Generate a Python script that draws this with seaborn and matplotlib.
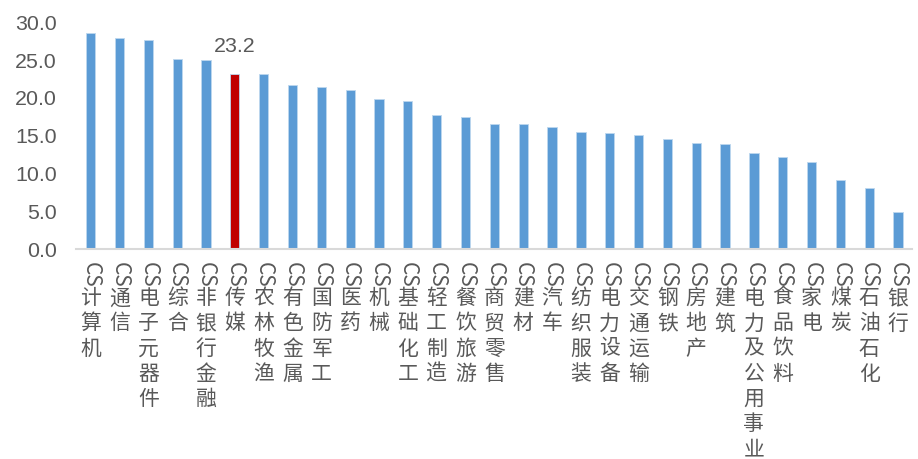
import matplotlib
matplotlib.use("Agg")
import matplotlib.pyplot as plt
import matplotlib.transforms as mtransforms
import seaborn as sns
import pandas as pd

categories = ["CS计算机", "CS通信", "CS电子元器件", "CS综合", "CS非银行金融", "CS传媒",
              "CS农林牧渔", "CS有色金属", "CS国防军工", "CS医药", "CS机械", "CS基础化工",
              "CS轻工制造", "CS餐饮旅游", "CS商贸零售", "CS建材", "CS汽车", "CS纺织服装",
              "CS电力设备", "CS交通运输", "CS钢铁", "CS房地产", "CS建筑", "CS电力及公用事业",
              "CS食品饮料", "CS家电", "CS煤炭", "CS石油石化", "CS银行"]
values = [28.6, 27.9, 27.7, 25.2, 25.0, 23.2, 23.2, 21.7, 21.4, 21.1, 19.9, 19.6,
          17.7, 17.5, 16.5, 16.5, 16.1, 15.5, 15.3, 15.1, 14.6, 14.1, 13.9, 12.7,
          12.2, 11.5, 9.1, 8.1, 4.9]
highlight = "CS传媒"
yticks = [0, 5, 10, 15, 20, 25, 30]

BLUE = "#5B9BD5"
RED = "#C00000"
GREY = "#595959"

sns.set_theme(style="white")
plt.rcParams["font.family"] = ["Liberation Sans", "Noto Sans CJK SC", "DejaVu Sans"]

df = pd.DataFrame({"cat": categories, "val": values})
palette = {c: (RED if c == highlight else BLUE) for c in categories}

fig = plt.figure(figsize=(9.18, 4.59), dpi=100)
ax = fig.add_axes([0.0831, 0.4575, 0.9109, 0.4935])
sns.barplot(data=df, x="cat", y="val", hue="cat", palette=palette, legend=False,
            width=0.32, ax=ax, edgecolor="#BDD7EE", linewidth=0.6, saturation=1)

ax.set_ylim(0, 30)
ax.set_yticks(yticks)
ax.set_yticklabels([f"{v:.1f}" for v in yticks], fontsize=15.4, color=GREY,
                   family=["Liberation Sans", "DejaVu Sans"])
ax.set_xlim(-0.5, len(categories) - 0.5)
ax.set_xlabel("")
ax.set_ylabel("")
for s in ["top", "right", "left"]:
    ax.spines[s].set_visible(False)
ax.spines["bottom"].set_color("#D9D9D9")
ax.spines["bottom"].set_linewidth(1.5)
ax.tick_params(axis="y", length=0, pad=14)
ax.tick_params(axis="x", length=0, pad=27.5)

# x labels: "CS" rotated, Chinese characters stacked upright
ax.set_xticks(range(len(categories)))
ax.set_xticklabels(["\n".join(list(c[2:])) for c in categories], fontsize=15,
                   color=GREY, va="top", linespacing=1.19, fontweight="light",
                   family=["Noto Sans CJK SC", "DejaVu Sans"])
trans = mtransforms.blended_transform_factory(ax.transData, fig.transFigure)
for i, c in enumerate(categories):
    ax.text(i, 1 - 262 / 459, c[:2], rotation=-90, ha="center", va="top",
            fontsize=15, color=GREY, transform=trans, fontweight="light",
            family=["Noto Sans CJK SC", "DejaVu Sans"])

hi = categories.index(highlight)
ax.annotate(f"{values[hi]:.1f}", xy=(hi, values[hi]), xytext=(0, 20),
            textcoords="offset points", ha="center", va="center",
            fontsize=15.4, color=GREY, family=["Liberation Sans", "DejaVu Sans"])

fig.savefig("out.png", dpi=100)
